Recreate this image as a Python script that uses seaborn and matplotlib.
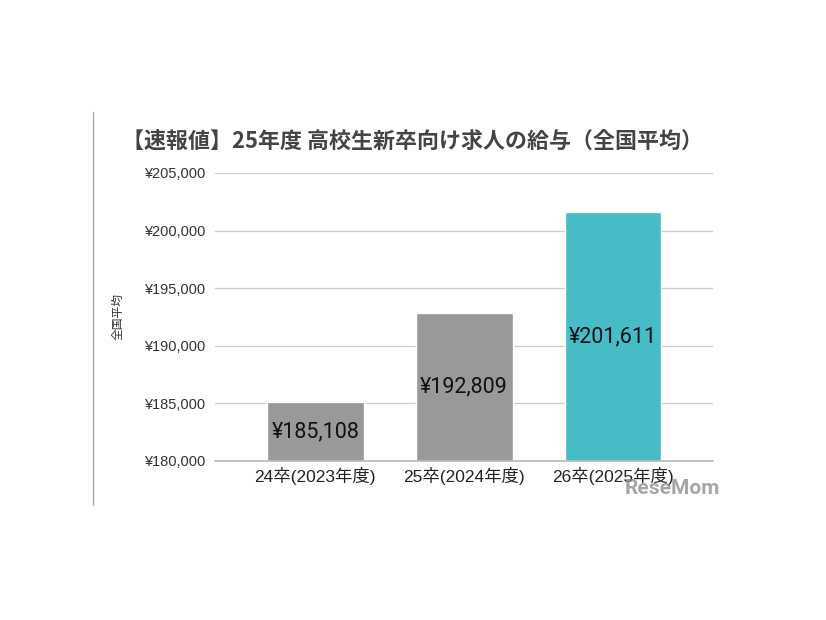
import matplotlib
matplotlib.use("Agg")
import matplotlib.pyplot as plt
import seaborn as sns
import pandas as pd
from matplotlib.lines import Line2D

# データ
categories = ["24卒(2023年度)", "25卒(2024年度)", "26卒(2025年度)"]
salaries = [185108, 192809, 201611]
bar_colors = ["#999999", "#999999", "#46BDC6"]
y_ticks = [180000, 185000, 190000, 195000, 200000, 205000]

sns.set_theme(style="white")
plt.rcParams['font.family'] = ['Liberation Sans', 'Noto Sans CJK JP', 'DejaVu Sans']

df = pd.DataFrame({"cat": categories, "val": salaries})

fig = plt.figure(figsize=(8.26, 6.2), dpi=100)
ax = fig.add_axes([0.260, 0.2565, 0.603, 0.4645])

sns.barplot(data=df, x="cat", y="val", hue="cat", palette=bar_colors,
            width=0.65, legend=False, ax=ax, saturation=1)

ax.set_ylim(y_ticks[0], y_ticks[-1])
ax.set_xlim(-0.675, 2.67)
ax.set_yticks(y_ticks)
ax.set_yticklabels([f"¥{v:,}" for v in y_ticks], fontsize=10.5, color="#333333")
ax.tick_params(axis="x", labelsize=12.5, colors="#222222", pad=4, length=0)
ax.tick_params(axis="y", length=0, pad=7)

ax.grid(axis="y", color="#cccccc", linewidth=0.9)
ax.set_axisbelow(True)
for s in ["top", "right", "left"]:
    ax.spines[s].set_visible(False)
ax.spines["bottom"].set_color("#bbbbbb")

ax.set_xlabel("")
ax.set_ylabel("全国平均", fontsize=8.5, color="#333333", labelpad=14,
              family=['Noto Sans CJK JP'])

# 棒の中央にラベル
for i, v in enumerate(salaries):
    ax.text(i, (y_ticks[0] + v) / 2, f"¥{v:,}", ha="center", va="center",
            fontsize=15.5, color="#111111", family=['Roboto', 'DejaVu Sans'])

fig.text(122 / 826, 1 - 141 / 620, "【速報値】25年度 高校生新卒向け求人の給与（全国平均）",
         fontsize=15.8, fontweight="bold", color="#444444", va="center", ha="left",
         family=['Noto Sans CJK JP', 'DejaVu Sans'])

# 左の縦線
fig.add_artist(Line2D([93 / 826, 93 / 826], [1 - 112 / 620, 1 - 505 / 620],
                      color="#aaaaaa", linewidth=1))

# 透かし
fig.text(720 / 826, 1 - 488 / 620, "ReseMom", fontsize=15, fontweight="bold",
         color="#888888", alpha=0.75, ha="right", va="center",
         family=['Roboto', 'DejaVu Sans'])

fig.savefig("out.png", dpi=100)
